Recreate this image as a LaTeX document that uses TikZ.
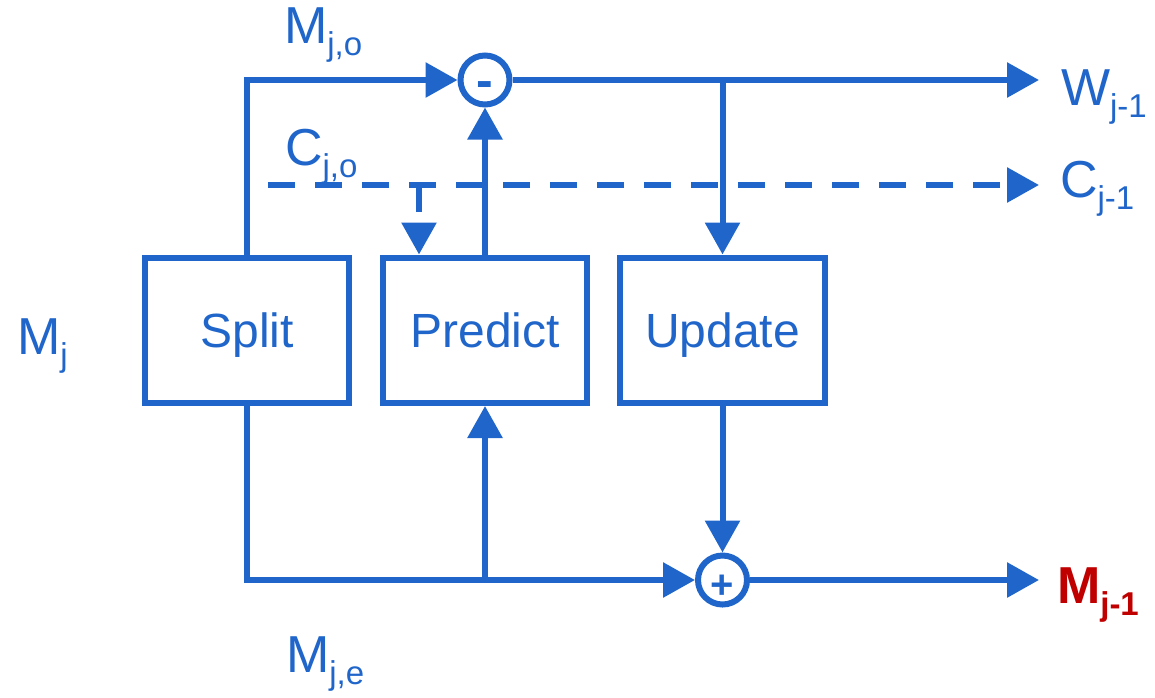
\documentclass[tikz,border=0pt]{standalone}
\usepackage{fontspec}
\setmainfont{Liberation Sans}
\usetikzlibrary{arrows.meta}
\definecolor{liftblue}{RGB}{32,102,202}
\definecolor{liftred}{RGB}{192,0,0}
% symbol with a lowered subscript
\newcommand{\symsub}[2]{#1\raisebox{-12pt}{\fontsize{33pt}{33pt}\selectfont #2}}
\begin{document}
\begin{tikzpicture}[x=1pt,y=-1pt,
  line width=6pt,
  every node/.style={text=liftblue},
  blk/.style={draw=liftblue, rectangle, minimum width=204.5pt, minimum height=145.5pt,
    inner sep=0pt, font=\fontsize{48pt}{48pt}\selectfont, text height=34.4pt, text depth=0pt},
  junction/.style={draw=liftblue, circle, minimum size=49pt, inner sep=0pt},
  opsign/.style={inner sep=0pt, anchor=base, font=\fontsize{#1}{#1}\selectfont\bfseries},
  conn/.style={draw=liftblue, -{Triangle[length=32pt,width=34pt]}},
  dconn/.style={conn, dash pattern=on 27pt off 20pt},
  sym/.style={inner sep=0pt, anchor=base west, font=\fontsize{52pt}{52pt}\selectfont}]
\useasboundingbox (0,0) rectangle (1155,697);

% processing stages
\node[blk] (split) at (247,330.25) {Split};
\node[blk] (predict) at (485,330.25) {Predict};
\node[blk] (update) at (722.5,330.25) {Update};

% difference and sum junctions
\node[junction] (minus) at (485,80) {};
\node[junction] (plus) at (722.5,580) {};
\node[opsign=50pt] (minussign) at (485,97) {-};
\node[opsign=40pt] (plussign) at (722.5,598) {+};

% branch points and outputs
\coordinate (tapU) at (722.5,80);
\coordinate (wout) at (1039,80);
\coordinate (cstart) at (268,185);
\coordinate (ctap) at (419,185);
\coordinate (cout) at (1039,185);
\coordinate (tapP) at (485,580);
\coordinate (mout) at (1039,580);

% odd branch
\draw[conn] (split.north) |- (minus.west);
\draw[conn] (predict.north) -- (minus.south);
\draw[conn] (minus.east) -- (wout);
\draw[conn] (tapU) -- (update.north);

% coefficients (dashed)
\draw[dconn] (cstart) -- (cout);
\draw[dconn] (ctap) -- (ctap |- predict.north);

% even branch
\draw[conn] (split.south) |- (plus.west);
\draw[conn] (tapP) -- (predict.south);
\draw[conn] (update.south) -- (plus.north);
\draw[conn] (plus.east) -- (mout);

% signal labels
\node[sym] (lMjo) at (281,43) {\symsub{M}{j,o}};
\node[sym] (lCjo) at (282,165) {\symsub{C}{j,o}};
\node[sym] (lMj) at (14,354) {\symsub{M}{j}};
\node[sym] (lMje) at (283,672) {\symsub{M}{j,e}};
\node[sym] (lW) at (1058,105) {\symsub{W}{j-1}};
\node[sym] (lC) at (1057,197) {\symsub{C}{j-1}};
\node[sym, text=liftred, font=\fontsize{52pt}{52pt}\selectfont\bfseries] (lM) at (1054,603) {\symsub{M}{j-1}};
\end{tikzpicture}
\end{document}
